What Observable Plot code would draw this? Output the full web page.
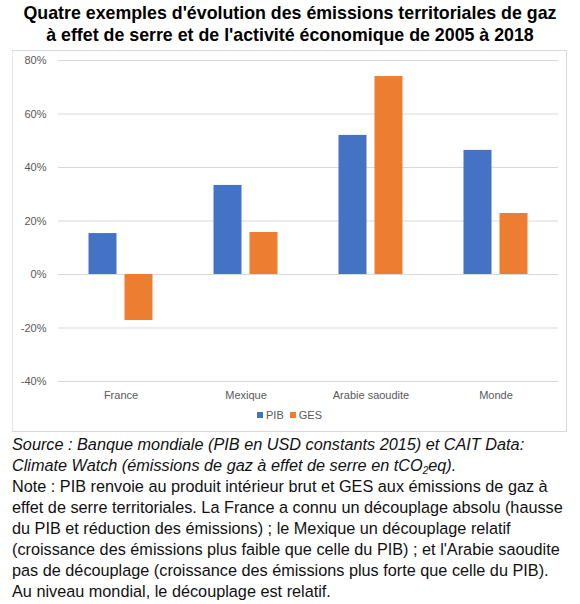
<!DOCTYPE html>
<html>
<head>
<meta charset="utf-8">
<script src="https://cdn.jsdelivr.net/npm/d3@7"></script>
<script src="https://cdn.jsdelivr.net/npm/@observablehq/plot@0.6"></script>
<style>
  html, body { margin: 0; padding: 0; background: #fff; }
  body { width: 580px; height: 604px; position: relative; font-family: "Liberation Sans", Arial, sans-serif; overflow: hidden; }
  #title { position: absolute; left: 0; top: 2px; width: 580px; text-align: center; font-weight: bold; font-size: 17.8px; line-height: 22px; color: #000; }
  #frame { position: absolute; left: 12px; top: 50px; width: 553px; height: 380px; border: 1px solid #d9d9d9; border-left-color: #e6e6e6; }
  #chart { position: absolute; left: 0; top: 0; }
  #legend { position: absolute; left: 0; top: 358px; width: 553px; text-align: center; font-size: 11px; color: #595959; }
  #legend span.sw { display: inline-block; width: 6px; height: 6px; margin-right: 3px; vertical-align: 1px; }
  #legend span.item { margin: 0 3px; }
  #caption { position: absolute; left: 12px; top: 434px; width: 568px; font-size: 16.25px; line-height: 21px; color: #111; white-space: nowrap; }
  #caption .src { font-style: italic; }
  #caption sub { font-size: 10px; line-height: 0; vertical-align: -3px; }
</style>
</head>
<body>
<div id="title">Quatre exemples d'évolution des émissions territoriales de gaz<br>à effet de serre et de l'activité économique de 2005 à 2018</div>
<div id="frame">
  <div id="chart"></div>
  <div id="legend"></div>
</div>
<div id="caption">
  <div class="src">Source : Banque mondiale (PIB en USD constants 2015) et CAIT Data:<br>Climate Watch (émissions de gaz à effet de serre en tCO<sub>2</sub>eq).</div>
  <div>Note : PIB renvoie au produit intérieur brut et GES aux émissions de gaz à<br>effet de serre territoriales. La France a connu un découplage absolu (hausse<br>du PIB et réduction des émissions) ; le Mexique un découplage relatif<br>(croissance des émissions plus faible que celle du PIB) ; et l'Arabie saoudite<br>pas de découplage (croissance des émissions plus forte que celle du PIB).<br>Au niveau mondial, le découplage est relatif.</div>
</div>
<script>
const countries = ["France", "Mexique", "Arabie saoudite", "Monde"];
const series = ["PIB", "GES"];
const pib = [15.3, 33.3, 52.0, 46.4];
const ges = [-17.2, 15.7, 74.0, 22.8];
const yTicks = [-40, -20, 0, 20, 40, 60, 80];
const colors = ["#4472C4", "#ED7D31"];

const pibRows = countries.map((c, i) => ({country: c, series: "PIB", value: pib[i]}));
const gesRows = countries.map((c, i) => ({country: c, series: "GES", value: ges[i]}));

const chart = Plot.plot({
  width: 553,
  height: 355,
  marginLeft: 45,
  marginRight: 8,
  marginTop: 9,
  marginBottom: 25,
  style: {fontFamily: "'Liberation Sans', Arial, sans-serif", fontSize: "11px", color: "#595959", background: "transparent"},
  x: {domain: countries, padding: 0},
  y: {domain: [-40, 80]},
  marks: [
    Plot.ruleY(yTicks, {stroke: "#d9d9d9", strokeWidth: 1}),
    Plot.barY(pibRows, {x: "country", y: "value", fill: colors[0], dx: -18, insetLeft: 48.5, insetRight: 48.5}),
    Plot.barY(gesRows, {x: "country", y: "value", fill: colors[1], dx: 18, insetLeft: 48.5, insetRight: 48.5}),
    Plot.axisX({tickSize: 0, tickPadding: 10, label: null, fill: "#595959"}),
    Plot.axisY({ticks: yTicks, tickFormat: d => d + "%", tickSize: 0, tickPadding: 12, label: null, fill: "#595959"})
  ]
});
document.getElementById("chart").appendChild(chart);

const legend = document.getElementById("legend");
series.forEach((s, i) => {
  const item = document.createElement("span");
  item.className = "item";
  item.innerHTML = `<span class="sw" style="background:${colors[i]}"></span>${s}`;
  legend.appendChild(item);
});
</script>
</body>
</html>
